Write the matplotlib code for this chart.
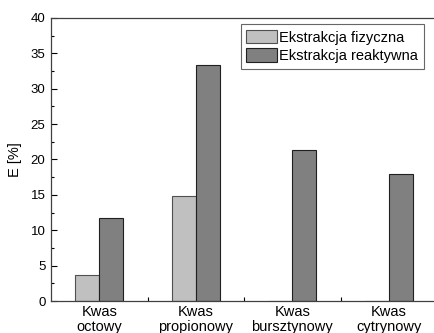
import numpy as np
import matplotlib.pyplot as plt
from matplotlib.ticker import MultipleLocator

plt.rcParams['font.family'] = ['Liberation Sans', 'DejaVu Sans']

categories = ['Kwas\noctowy', 'Kwas\npropionowy', 'Kwas\nbursztynowy', 'Kwas\ncytrynowy']
fizyczna = [3.7, 14.8, 0, 0]
reaktywna = [11.8, 33.4, 21.3, 17.9]

x = np.arange(len(categories))
w = 0.25

fig = plt.figure(figsize=(4.34, 3.33), dpi=100)
ax = fig.add_axes([51 / 434, 32 / 333, 386 / 434, 283 / 333])

ax.bar(x - w / 2, fizyczna, w, color='#c0c0c0', edgecolor='#505050', linewidth=0.8,
       label='Ekstrakcja fizyczna')
ax.bar(x + w / 2, reaktywna, w, color='#808080', edgecolor='#202020', linewidth=0.8,
       label='Ekstrakcja reaktywna')

ax.set_xlim(-0.5, 3.5)
ax.set_ylim(0, 40)
ax.yaxis.set_major_locator(MultipleLocator(5))
ax.yaxis.set_minor_locator(MultipleLocator(2.5))
ax.tick_params(axis='y', direction='in', length=4, labelsize=9.5, width=0.8, pad=4)
ax.tick_params(axis='y', which='minor', direction='in', length=2.5, width=0.8)

ax.set_xticks([0.5, 1.5, 2.5])
ax.set_xticklabels([])
ax.tick_params(axis='x', direction='in', length=3, width=0.8)
for xi, lab in zip(x, categories):
    ax.text(xi, -0.6, lab, ha='center', va='top', fontsize=10.5, linespacing=1.05,
            transform=ax.transData)

ax.set_ylabel('E [%]', fontsize=10.5, labelpad=6)
for s in ax.spines.values():
    s.set_linewidth(0.9)
    s.set_color('#404040')

leg = ax.legend(loc='upper right', bbox_to_anchor=(0.966, 0.979), fontsize=10.5,
                frameon=True, fancybox=False, edgecolor='#404040',
                handlelength=2.1, handleheight=1.05, handletextpad=0.15,
                borderpad=0.4, labelspacing=0.25, borderaxespad=0)
leg.get_frame().set_linewidth(0.8)

fig.savefig('out.png', dpi=100)
